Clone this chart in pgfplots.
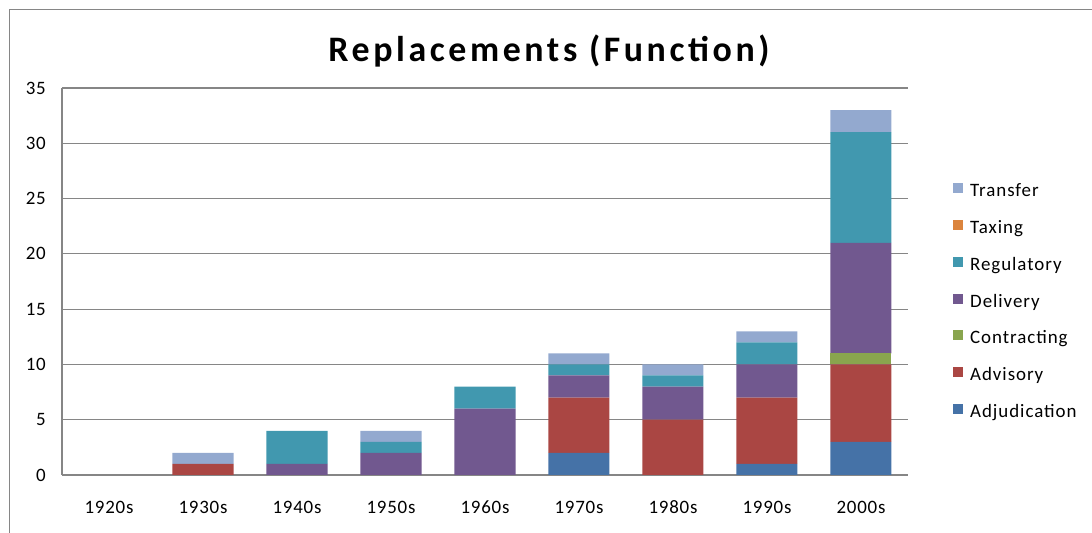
\documentclass[border=0pt]{standalone}
\usepackage{fontspec}
\setmainfont{Carlito}
\usepackage{pgfplots}
\usepackage{pgfplotstable}
\pgfplotsset{compat=1.18}

\definecolor{cAdj}{HTML}{4572A7}
\definecolor{cAdv}{HTML}{AA4643}
\definecolor{cCon}{HTML}{89A54E}
\definecolor{cDel}{HTML}{71588F}
\definecolor{cReg}{HTML}{4198AF}
\definecolor{cTax}{HTML}{DB843D}
\definecolor{cTra}{HTML}{93A9CF}
\definecolor{gridc}{HTML}{868686}

% replacements per decade, by function
\pgfplotstableread{
x Adjudication Advisory Contracting Delivery Regulatory Taxing Transfer
0 0 0 0 0  0  0 0
1 0 1 0 0  0  0 1
2 0 0 0 1  3  0 0
3 0 0 0 2  1  0 1
4 0 0 0 6  2  0 0
5 2 5 0 2  1  0 1
6 0 5 0 3  1  0 1
7 1 6 0 3  2  0 1
8 3 7 1 10 10 0 2
}\datatable

\begin{document}
\begin{tikzpicture}
\draw[gridc, line width=1.3bp] (9.5bp,0bp) -- (9.5bp,523.5bp) -- (1092bp,523.5bp);
\node[anchor=base, font=\fontsize{36}{36}\selectfont\bfseries\addfontfeature{LetterSpace=10}]
  at (549bp,471.8bp) {Replacements (Function)};
\begin{axis}[
    at={(62bp,58bp)}, anchor=south west,
    scale only axis,
    width=846bp, height=387bp,
    ybar stacked, bar width=61bp,
    xmin=-0.5, xmax=8.5, ymin=0, ymax=35,
    xtick={0,...,8},
    xticklabels={1920s,1930s,1940s,1950s,1960s,1970s,1980s,1990s,2000s},
    ytick={0,5,...,35},
    major tick length=0pt,
    axis x line*=bottom, axis y line*=left,
    axis line style={gridc, line width=1.1bp, -},
    ymajorgrids,
    major grid style={gridc, line width=1.1bp},
    /pgf/number format/assume math mode=true,
    tick label style={font=\fontsize{19}{19}\selectfont\addfontfeature{LetterSpace=4}},
    yticklabel style={inner sep=0pt, xshift=-16bp},
    xticklabel style={anchor=center, inner sep=0pt, yshift=-32bp},
    every axis plot/.append style={draw=none},
    reverse legend,
    legend image code/.code={\fill[#1] (0bp,-1bp) rectangle (10bp,9bp);},
    legend style={draw=none, fill=none, inner sep=0pt,
        at={(1.0532,0.446)}, anchor=west,
        row sep=19.3bp, column sep=7bp,
        font=\fontsize{19}{19}\selectfont\addfontfeature{LetterSpace=5},
        nodes={inner sep=0pt, text height=13bp, text depth=4bp},
        legend cell align=left},
]
\addplot[fill=cAdj] table[x=x, y=Adjudication] {\datatable};
\addlegendentry{Adjudication}
\addplot[fill=cAdv] table[x=x, y=Advisory] {\datatable};
\addlegendentry{Advisory}
\addplot[fill=cCon] table[x=x, y=Contracting] {\datatable};
\addlegendentry{Contracting}
\addplot[fill=cDel] table[x=x, y=Delivery] {\datatable};
\addlegendentry{Delivery}
\addplot[fill=cReg] table[x=x, y=Regulatory] {\datatable};
\addlegendentry{Regulatory}
\addplot[fill=cTax] table[x=x, y=Taxing] {\datatable};
\addlegendentry{Taxing}
\addplot[fill=cTra] table[x=x, y=Transfer] {\datatable};
\addlegendentry{Transfer}
\end{axis}
\pgfresetboundingbox
\useasboundingbox (0bp,0bp) rectangle (1092bp,533bp);
\end{tikzpicture}
\end{document}
